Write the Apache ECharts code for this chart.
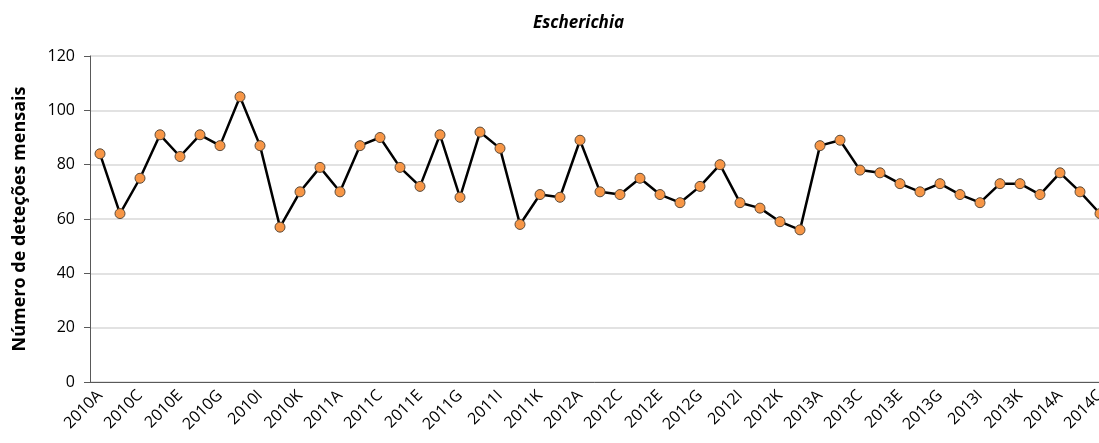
<!DOCTYPE html>
<html>
<head>
<meta charset="utf-8">
<script src="https://cdn.jsdelivr.net/npm/echarts@6/dist/echarts.min.js"></script>
<style>
  html, body { margin: 0; padding: 0; background: #fff; overflow: hidden; }
  #container { width: 1099px; height: 443px; }
</style>
</head>
<body>
<div id="container"></div>
<script>
// months are coded A..L, one point per month from 2010A to 2014C
const years = ['2010', '2011', '2012', '2013', '2014'];
const months = ['A', 'B', 'C', 'D', 'E', 'F', 'G', 'H', 'I', 'J', 'K', 'L'];
const categories = [];
years.forEach((y) => months.forEach((m) => categories.push(y + m)));
categories.length = 51;

const detections = [
  84, 62, 75, 91, 83, 91, 87, 105, 87, 57, 70, 79,
  70, 87, 90, 79, 72, 91, 68, 92, 86, 58, 69, 68,
  89, 70, 69, 75, 69, 66, 72, 80, 66, 64, 59, 56,
  87, 89, 78, 77, 73, 70, 73, 69, 66, 73, 73, 69,
  77, 70, 62,
];

const font = '"Open Sans", "Liberation Sans", sans-serif';

var chart = echarts.init(document.getElementById('container'));
const option = {
  animation: false,
  title: {
    text: 'Escherichia',
    left: 528,
    top: 10,
    textStyle: {
      fontFamily: font,
      fontSize: 17,
      fontWeight: 'bold',
      fontStyle: 'italic',
      color: '#000',
    },
  },
  grid: {
    left: 90,
    width: 1020, // plot runs past the right edge, 2014C sits on the border
    top: 56,
    bottom: 61,
    outerBoundsMode: 'none',
  },
  xAxis: {
    type: 'category',
    data: categories,
    boundaryGap: true,
    axisLine: { lineStyle: { color: '#595959', width: 1 } },
    axisTick: { interval: 0, length: 5, lineStyle: { color: '#595959' } },
    axisLabel: {
      interval: 1,
      rotate: 45,
      margin: 11,
      fontFamily: font,
      fontSize: 16,
      color: '#000',
    },
    splitLine: { show: false },
  },
  yAxis: {
    type: 'value',
    min: 0,
    max: 120,
    interval: 20,
    name: 'Número de deteções mensais',
    nameLocation: 'middle',
    nameGap: 61,
    nameTextStyle: {
      fontFamily: font,
      fontSize: 18,
      fontWeight: 'bold',
      color: '#000',
    },
    axisLine: { show: true, lineStyle: { color: '#595959', width: 1 } },
    axisTick: { show: true, length: 6, lineStyle: { color: '#595959' } },
    axisLabel: {
      fontFamily: font,
      fontSize: 16,
      color: '#000',
      margin: 15,
    },
    splitLine: { lineStyle: { color: '#d9d9d9', width: 1.5 } },
  },
  series: [
    {
      type: 'line',
      data: detections,
      symbol: 'circle',
      symbolSize: 10,
      lineStyle: { color: '#000', width: 2.5 },
      itemStyle: { color: '#f79646', borderColor: '#5a4a3a', borderWidth: 1 },
    },
  ],
};
chart.setOption(option);
</script>
</body>
</html>
